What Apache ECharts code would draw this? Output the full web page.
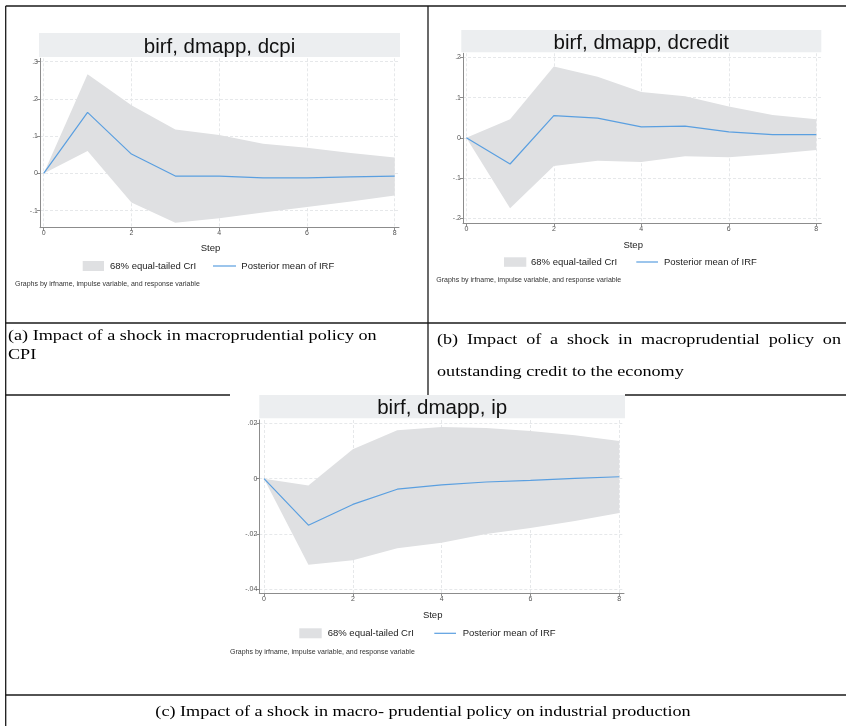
<!DOCTYPE html>
<html><head><meta charset="utf-8">
<script src="https://cdn.jsdelivr.net/npm/echarts@6/dist/echarts.min.js"></script>
<style>html,body{margin:0;padding:0;background:#fff}#c{width:846px;height:726px}</style>
</head><body><div id="c"></div>
<script>
// ---------- data ----------
const steps = [0, 1, 2, 3, 4, 5, 6, 7, 8];
const xTicks = [0, 2, 4, 6, 8];

const meanCpi  = [0, 0.164, 0.052, -0.007, -0.007, -0.012, -0.012, -0.009, -0.007];
const lowerCpi = [0, 0.060, -0.078, -0.132, -0.120, -0.105, -0.090, -0.075, -0.059];
const upperCpi = [0, 0.266, 0.183, 0.118, 0.103, 0.080, 0.069, 0.055, 0.043];
const yTicksCpi = [-0.1, 0, 0.1, 0.2, 0.3];

const meanCredit  = [0, -0.065, 0.055, 0.049, 0.027, 0.029, 0.015, 0.008, 0.008];
const lowerCredit = [0, -0.175, -0.070, -0.057, -0.060, -0.046, -0.048, -0.040, -0.030];
const upperCredit = [0, 0.046, 0.177, 0.152, 0.114, 0.103, 0.078, 0.057, 0.046];
const yTicksCredit = [-0.2, -0.1, 0, 0.1, 0.2];

const meanIp  = [0, -0.0168, -0.0093, -0.0038, -0.0022, -0.0012, -0.0006, 0.0001, 0.0007];
const lowerIp = [0, -0.0311, -0.0295, -0.0251, -0.0231, -0.0200, -0.0178, -0.0153, -0.0124];
const upperIp = [0, -0.0025, 0.0106, 0.0175, 0.0187, 0.0183, 0.0172, 0.0157, 0.0136];
const yTicksIp = [-0.04, -0.02, 0, 0.02];

const panelTitles = ['birf, dmapp, dcpi', 'birf, dmapp, dcredit', 'birf, dmapp, ip'];
const legendNames = ['68% equal-tailed CrI', 'Posterior mean of IRF'];
const noteText = 'Graphs by irfname, impulse variable, and response variable';
const axisTitle = 'Step';
const captionA = ['(a) Impact of a shock in macroprudential policy on', 'CPI'];
const captionB = ['(b) Impact of a shock in macroprudential policy on', 'outstanding credit to the economy'];
const captionC = '(c) Impact of a shock in macro- prudential policy on industrial production';

// ---------- styles / layout ----------
const BAND = '#dfe0e2', LINE = '#5a9fe0', HEAD = '#eceef0', AXIS = '#8c8c8c';
const SANS = 'Liberation Sans', SERIF = 'Liberation Serif';
const CAP_SIZE = 15.5, CAP_SX = 1.17;

const panels = [
  {grid:{left:40, top:58.3, width:359, height:169.4}, x:[-0.084, 8.098], y:[-0.1456, 0.309], yt:yTicksCpi,
   lo:lowerCpi, up:upperCpi, mn:meanCpi, head:[39,33,361,24], titleY:47, nameGap:16,
   leg:{box:[82.7,261,21.3,10], t1:110, l:[213,236], t2:241.3, y:266}, note:[15,284]},
  {grid:{left:463, top:53.3, width:358.3, height:170}, x:[-0.076, 8.114], y:[-0.2124, 0.21], yt:yTicksCredit,
   lo:lowerCredit, up:upperCredit, mn:meanCredit, head:[461.3,30,360,22.3], titleY:43.5, nameGap:17,
   leg:{box:[504,257.3,22.3,9.5], t1:531, l:[636.3,658], t2:664, y:262}, note:[436.3,280]},
  {grid:{left:259.3, top:420, width:364.7, height:173.3}, x:[-0.106, 8.106], y:[-0.0414, 0.0212], yt:yTicksIp,
   lo:lowerIp, up:upperIp, mn:meanIp, head:[259.3,395,365.7,23.3], titleY:408.5, nameGap:17,
   leg:{box:[299.3,628.3,22.4,10], t1:327.7, l:[434.3,456], t2:462.7, y:633.3}, note:[230,651.7]}
];

function fmt(v) {
  if (Math.abs(v) < 1e-12) return '0';
  return String(+v.toFixed(4)).replace('0.', '.');
}

const grids = [], xAxes = [], yAxes = [], series = [], graphic = [];
panels.forEach((p, i) => {
  grids.push(Object.assign({outerBoundsMode:'none', containLabel:false}, p.grid));
  xAxes.push({
    type:'value', gridIndex:i, min:p.x[0], max:p.x[1],
    name:axisTitle, nameLocation:'middle', nameGap:p.nameGap,
    nameTextStyle:{fontSize:9.5, color:'#222', fontFamily:SANS, padding:[0,18,0,0]},
    axisLine:{show:true, onZero:false, lineStyle:{color:AXIS, width:1}},
    axisTick:{show:true, length:3, customValues:xTicks, lineStyle:{color:AXIS}},
    axisLabel:{customValues:xTicks, fontSize:7, color:'#555', margin:2, fontFamily:SANS, formatter:fmt},
    splitLine:{show:true, lineStyle:{color:'#e6e8ea', type:[3,2], width:1}}
  });
  yAxes.push({
    type:'value', gridIndex:i, min:p.y[0], max:p.y[1],
    axisLine:{show:true, onZero:false, lineStyle:{color:AXIS, width:1}},
    axisTick:{show:true, length:3, customValues:p.yt, lineStyle:{color:AXIS}},
    axisLabel:{customValues:p.yt, fontSize:7, color:'#555', margin:2, fontFamily:SANS, formatter:fmt},
    splitLine:{show:true, lineStyle:{color:'#e6e8ea', type:[3,2], width:1}}
  });
  const lo = p.lo, up = p.up;
  series.push(
    {type:'custom', name:legendNames[0], xAxisIndex:i, yAxisIndex:i, silent:true, z:1,
     data:steps.map((s,k)=>[s, lo[k], up[k]]), encode:{x:0, y:[1,2]},
     renderItem:function(params, api){
       if (params.dataIndex !== 0) return null;
       const pts = [];
       for (let k = 0; k < steps.length; k++) pts.push(api.coord([steps[k], up[k]]));
       for (let k = steps.length - 1; k >= 0; k--) pts.push(api.coord([steps[k], lo[k]]));
       return {type:'polygon', shape:{points:pts}, style:{fill:BAND}};
     }},
    {type:'line', name:legendNames[1], xAxisIndex:i, yAxisIndex:i,
     data:steps.map((s,k)=>[s, p.mn[k]]), symbol:'none', lineStyle:{color:LINE, width:1.2}, z:3}
  );
  // title band + title
  graphic.push({type:'rect', shape:{x:p.head[0], y:p.head[1], width:p.head[2], height:p.head[3]}, style:{fill:HEAD}, silent:true});
  graphic.push({type:'text', x:p.head[0]+p.head[2]/2, y:p.titleY,
    style:{text:panelTitles[i], fontSize:20.5, fontFamily:SANS, fill:'#111', align:'center', verticalAlign:'middle'}});
  // legend
  const L = p.leg;
  graphic.push({type:'rect', shape:{x:L.box[0], y:L.box[1], width:L.box[2], height:L.box[3]}, style:{fill:BAND}});
  graphic.push({type:'text', x:L.t1, y:L.y, style:{text:legendNames[0], fontSize:9.5, fontFamily:SANS, fill:'#222', verticalAlign:'middle'}});
  graphic.push({type:'line', shape:{x1:L.l[0], y1:L.y, x2:L.l[1], y2:L.y}, style:{stroke:LINE, lineWidth:1.2}});
  graphic.push({type:'text', x:L.t2, y:L.y, style:{text:legendNames[1], fontSize:9.5, fontFamily:SANS, fill:'#222', verticalAlign:'middle'}});
  // note
  graphic.push({type:'text', x:p.note[0], y:p.note[1], style:{text:noteText, fontSize:7, fontFamily:SANS, fill:'#333', verticalAlign:'middle'}});
});

// table rules
const RULE = {stroke:'#1a1a1a', lineWidth:1.3};
[[5.7,6,846,6],[5.7,6,5.7,726],[428,6,428,395],[5.7,323,846,323],[5.7,395,230,395],[625,395,846,395],[5.7,695,846,695]]
  .forEach(s => graphic.push({type:'line', shape:{x1:s[0], y1:s[1], x2:s[2], y2:s[3]}, style:RULE, silent:true}));

// captions
function capText(t, x, y, align) {
  return {type:'text', x:x, y:y, scaleX:CAP_SX,
    style:{text:t, fontSize:CAP_SIZE, fontFamily:SERIF, fill:'#000', align:align||'left', verticalAlign:'middle'}};
}
graphic.push(capText(captionA[0], 8, 336));
graphic.push(capText(captionA[1], 8, 355));
// justified first line of caption (b)
(function(){
  const ctx = document.createElement('canvas').getContext('2d');
  ctx.font = CAP_SIZE + 'px "' + SERIF + '"';
  const words = captionB[0].split(' ');
  const ws = words.map(w => ctx.measureText(w).width * CAP_SX);
  const x0 = 437, x1 = 841;
  const gap = (x1 - x0 - ws.reduce((a,b)=>a+b,0)) / (words.length - 1);
  let x = x0;
  words.forEach((w,k) => { graphic.push(capText(w, x, 340)); x += ws[k] + gap; });
})();
graphic.push(capText(captionB[1], 437, 372));
graphic.push(capText(captionC, 423, 712, 'center'));

const chart = echarts.init(document.getElementById('c'), null, {renderer:'canvas'});
chart.setOption({
  animation:false,
  backgroundColor:'#fff',
  grid:grids, xAxis:xAxes, yAxis:yAxes, series:series, graphic:graphic
});
</script></body></html>
